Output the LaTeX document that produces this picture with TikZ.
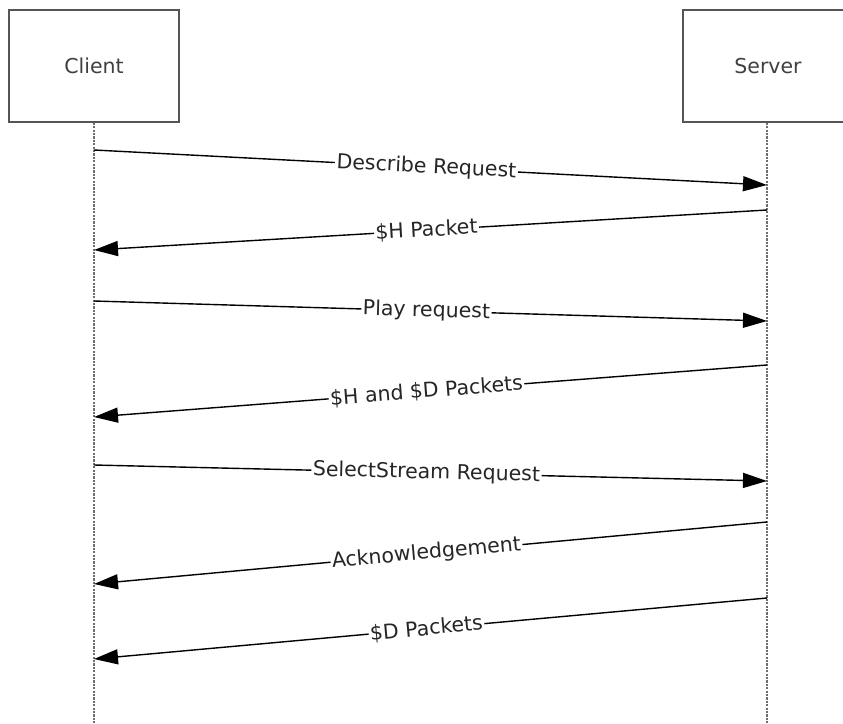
\documentclass[tikz,border=0pt]{standalone}
\usepackage{fontspec}
\setmainfont{DejaVu Sans}
\usetikzlibrary{arrows.meta}
\definecolor{boxline}{HTML}{555555}
\definecolor{boxtext}{HTML}{404040}
\definecolor{lifegray}{HTML}{6E6E6E}
\tikzset{
  actor/.style={draw=boxline, line width=1.6pt, fill=white, minimum width=170pt, minimum height=112pt, text=boxtext, font=\fontsize{20.5}{24}\selectfont, inner sep=0pt},
  lifeline/.style={draw=lifegray, line width=2.6pt, dash pattern=on 2.2pt off 1.2pt},
  msg/.style={draw=black, line width=1.4pt, -{Triangle[length=24pt, width=15pt]}},
  lbl/.style={sloped, fill=white, text=black!85, inner sep=1.5pt, font=\fontsize{20.5}{24}\selectfont}
}
\begin{document}
\begin{tikzpicture}[x=1pt, y=-1pt]
\useasboundingbox (0,0) rectangle (843,723);
\clip (0,0) rectangle (843,723);
\fill[white] (0,0) rectangle (843,723);
\node[actor] (client) at (94,66) {Client};
\node[actor] (server) at (768,66) {Server};
\coordinate (cend) at (94,723);
\coordinate (send) at (767,723);
\draw[lifeline] (client.south) -- (cend);
\draw[lifeline] (server.south -| send) -- (send);
% message endpoints
\coordinate (c1) at (94,150);  \coordinate (s1) at (767,185);
\coordinate (s2) at (767,210); \coordinate (c2) at (94,250);
\coordinate (c3) at (94,301);  \coordinate (s3) at (767,321);
\coordinate (s4) at (767,365); \coordinate (c4) at (94,417);
\coordinate (c5) at (94,465);  \coordinate (s5) at (767,481);
\coordinate (s6) at (767,522); \coordinate (c6) at (94,584);
\coordinate (s7) at (767,598); \coordinate (c7) at (94,659);
\draw[msg] (c1) -- node[lbl, pos=0.494] {Describe Request} (s1);
\draw[msg] (s2) -- node[lbl, pos=0.506] {\$H Packet} (c2);
\draw[msg] (c3) -- node[lbl, pos=0.494] {Play request} (s3);
\draw[msg] (s4) -- node[lbl, pos=0.506] {\$H and \$D Packets} (c4);
\draw[msg] (c5) -- node[lbl, pos=0.494] {SelectStream Request} (s5);
\draw[msg] (s6) -- node[lbl, pos=0.506] {Acknowledgement} (c6);
\draw[msg] (s7) -- node[lbl, pos=0.506] {\$D Packets} (c7);
\end{tikzpicture}
\end{document}
